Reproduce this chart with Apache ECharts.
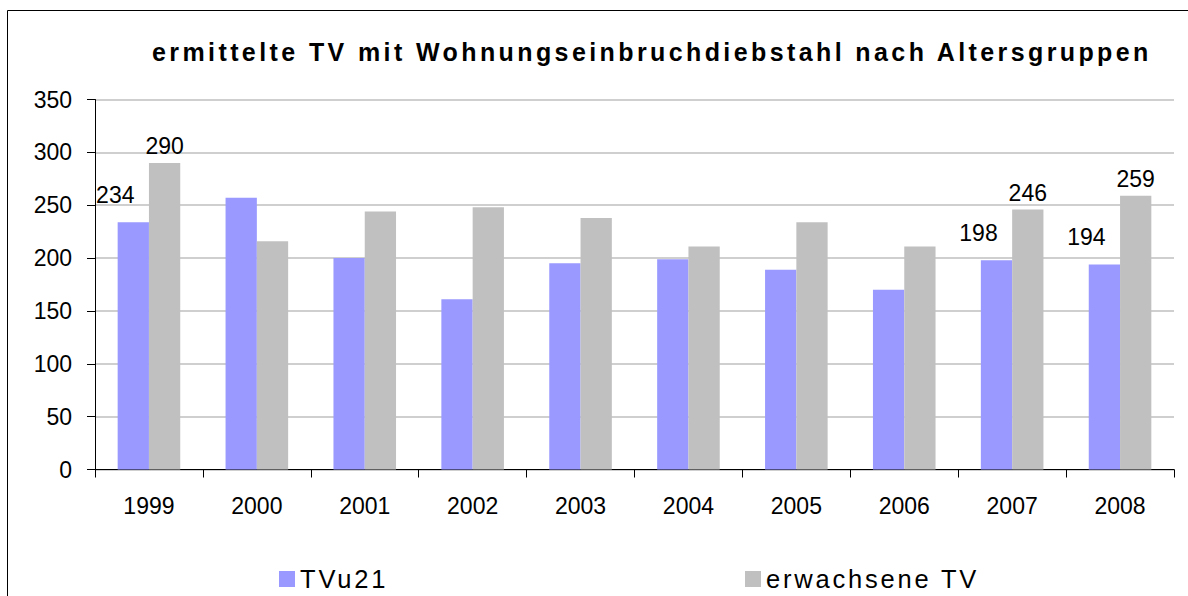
<!DOCTYPE html>
<html>
<head>
<meta charset="utf-8">
<title>ermittelte TV mit Wohnungseinbruchdiebstahl nach Altersgruppen</title>
<script src="https://cdn.jsdelivr.net/npm/echarts@6/dist/echarts.min.js"></script>
<style>
    html, body { margin: 0; padding: 0; background: #fff; }
    #chart { width: 1188px; height: 596px; }
    /* gesperrte Schrift wie im Original (Titel + Legende) */
    #chart text[style*="25px"] { letter-spacing: 3.4px; }
    #chart text[style*="25.5px"] { letter-spacing: 2.8px; }
</style>
</head>
<body>
<div id="chart"></div>
<script>
// Daten
const years = ['1999', '2000', '2001', '2002', '2003', '2004', '2005', '2006', '2007', '2008'];
const tvu21 = [234, 257, 200, 161, 195, 199, 189, 170, 198, 194];
const erwachsene = [290, 216, 244, 248, 238, 211, 234, 211, 246, 259];
const seriesNames = ['TVu21', 'erwachsene TV'];
// nur diese Jahre haben Beschriftungen
const labelledIdx = [0, 8, 9];

const font = 'Liberation Sans, Arial, sans-serif';

// Datenpunkte mit Labels bauen
function withLabels(values, offset) {
    return values.map((v, i) => {
        if (labelledIdx.indexOf(i) < 0) return v;
        return { value: v, label: { show: true, position: 'top', offset: offset } };
    });
}

let chart = echarts.init(document.getElementById('chart'), null, { renderer: 'svg' });
chart.setOption({
    backgroundColor: '#fff',
    animation: false,
    // Titel
    title: {
        text: 'ermittelte TV mit Wohnungseinbruchdiebstahl nach Altersgruppen',
        left: 147,
        top: 34,
        textStyle: {
            color: '#000',
            fontFamily: font,
            fontSize: 25,
            fontWeight: 'bold'
        }
    },
    // Rahmen
    graphic: [{
        type: 'rect',
        shape: { x: 7.5, y: 10.5, width: 1300, height: 700 },
        style: { fill: 'none', stroke: '#000', lineWidth: 1 },
        silent: true
    }],
    // zwei Legenden, weit auseinander
    legend: [{
        data: [seriesNames[0]],
        left: 274,
        top: 561,
        icon: 'rect',
        itemWidth: 16,
        itemHeight: 16,
        textStyle: { color: '#000', fontFamily: font, fontSize: 25.5 }
    }, {
        data: [seriesNames[1]],
        left: 740,
        top: 561,
        icon: 'rect',
        itemWidth: 16,
        itemHeight: 16,
        textStyle: { color: '#000', fontFamily: font, fontSize: 25.5 }
    }],
    grid: {
        left: 95,
        right: 14,
        top: 99.5,
        bottom: 126.5
    },
    xAxis: {
        type: 'category',
        data: years,
        axisLine: { show: true, lineStyle: { color: '#000', width: 1 } },
        axisTick: { show: true, length: 8, lineStyle: { color: '#000' } },
        axisLabel: { color: '#000', fontFamily: font, fontSize: 23, margin: 25 }
    },
    yAxis: {
        type: 'value',
        min: 0,
        max: 350,
        interval: 50,
        axisLine: { show: true, lineStyle: { color: '#000', width: 1 } },
        axisTick: { show: true, length: 8, lineStyle: { color: '#000' } },
        axisLabel: { color: '#000', fontFamily: font, fontSize: 23, margin: 23 },
        splitLine: { lineStyle: { color: '#cfcfcf', width: 2 } }
    },
    series: [
        {
            name: seriesNames[0],
            type: 'bar',
            barWidth: '29%',
            barGap: '0%',
            itemStyle: { color: '#9999FF' },
            label: { color: '#000', fontFamily: font, fontSize: 23 },
            data: withLabels(tvu21, [-18, -11])
        },
        {
            name: seriesNames[1],
            type: 'bar',
            barWidth: '29%',
            barGap: '0%',
            itemStyle: { color: '#C0C0C0' },
            label: { color: '#000', fontFamily: font, fontSize: 23 },
            data: withLabels(erwachsene, [0, 0])
        }
    ]
});
window.addEventListener('resize', () => {
    chart.resize();
});
</script>
</body>
</html>
